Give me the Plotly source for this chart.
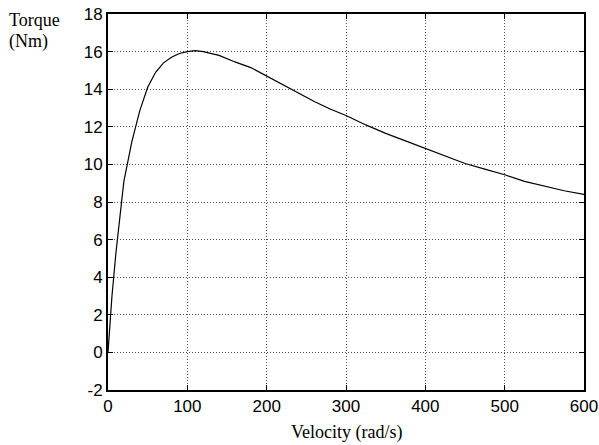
import plotly.graph_objects as go

velocity = [0, 5, 10, 20, 30, 40, 50, 60, 70, 80, 90, 100, 110, 120, 140, 160, 180, 200,
            230, 260, 280, 300, 325, 350, 375, 400, 425, 450, 475, 500, 525, 550, 575, 600]
torque = [0, 3.0, 5.3, 9.1, 11.2, 12.85, 14.1, 14.9, 15.4, 15.7, 15.9, 16.0, 16.05, 16.0,
          15.8, 15.45, 15.15, 14.7, 14.05, 13.35, 12.95, 12.6, 12.1, 11.65, 11.25, 10.85,
          10.45, 10.05, 9.75, 9.45, 9.1, 8.85, 8.6, 8.4]

x_ticks = [0, 100, 200, 300, 400, 500, 600]
y_ticks = [-2, 0, 2, 4, 6, 8, 10, 12, 14, 16, 18]

SERIF = "Liberation Serif, Times New Roman"
SANS = "Liberation Sans, Arial"

fig = go.Figure()
fig.add_trace(go.Scatter(x=velocity, y=torque, mode="lines",
                         line=dict(color="black", width=1.2), showlegend=False))

axis_common = dict(
    showline=True, linecolor="black", linewidth=2, mirror="ticks",
    ticks="inside", ticklen=5, tickcolor="black", tickwidth=1,
    showgrid=True, gridcolor="#555555", griddash="1px,2px", gridwidth=1,
    zeroline=False, automargin=False,
    tickfont=dict(family=SANS, size=17, color="black"),
)

fig.update_xaxes(range=[0, 600], tickvals=x_ticks, ticktext=[str(v) for v in x_ticks],
                 **axis_common)
fig.update_yaxes(range=[-2, 18], tickvals=y_ticks, ticktext=[str(v) for v in y_ticks],
                 **axis_common)

fig.add_annotation(text="Torque", xref="paper", yref="paper",
                   x=-0.212, y=0.985, xanchor="left", yanchor="middle", align="left",
                   showarrow=False, font=dict(family=SERIF, size=18, color="black"))
fig.add_annotation(text="(Nm)", xref="paper", yref="paper",
                   x=-0.212, y=0.928, xanchor="left", yanchor="middle", align="left",
                   showarrow=False, font=dict(family=SERIF, size=18, color="black"))
fig.add_annotation(text="Velocity (rad/s)", xref="paper", yref="paper",
                   x=0.5, y=-0.114, xanchor="center", yanchor="middle",
                   showarrow=False, font=dict(family=SERIF, size=18, color="black"))

fig.update_layout(
    width=599, height=445,
    margin=dict(l=108, r=15, t=14, b=55),
    paper_bgcolor="white", plot_bgcolor="white",
)

fig.write_html("out.html", config={"displayModeBar": False},
               post_script="document.body.style.margin='0';document.body.style.overflow='hidden';")
